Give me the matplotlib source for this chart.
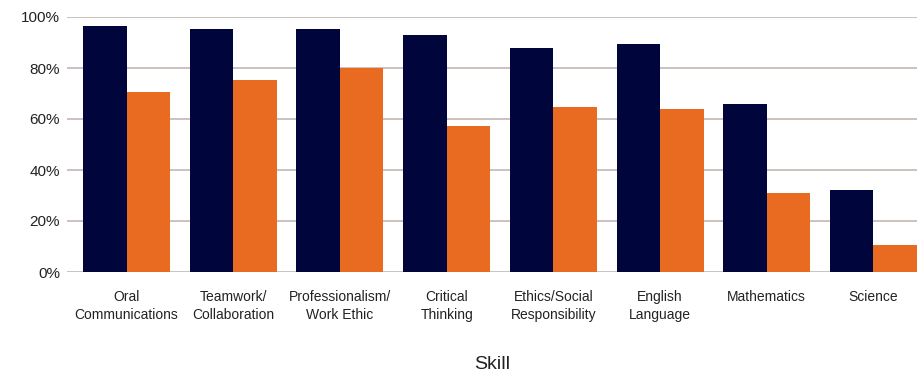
import matplotlib
matplotlib.use("Agg")
import matplotlib.pyplot as plt
import numpy as np

categories = ["Oral\nCommunications", "Teamwork/\nCollaboration", "Professionalism/\nWork Ethic",
              "Critical\nThinking", "Ethics/Social\nResponsibility", "English\nLanguage",
              "Mathematics", "Science"]
series_a = [96.4, 95.1, 95.1, 92.8, 87.8, 89.3, 65.8, 32.2]
series_b = [70.5, 75.2, 80.0, 57.2, 64.7, 63.9, 31.0, 10.7]
yticks = [0, 20, 40, 60, 80, 100]
ytick_labels = ["0%", "20%", "40%", "60%", "80%", "100%"]

plt.rcParams['font.family'] = ['Liberation Sans', 'DejaVu Sans']

fig = plt.figure(figsize=(9.24, 3.75), dpi=100)
ax = fig.add_axes([67/924, 1-272/375, (917-67)/924, (272-17)/375])

x = np.arange(len(categories))
w = 0.408
ax.bar(x - w/2, series_a, width=w, color="#00063b", zorder=3)
ax.bar(x + w/2, series_b, width=w, color="#e96b22", zorder=3)

ax.set_xlim(-0.558, len(categories) - 1 + w)
ax.set_ylim(0, 100)
ax.set_yticks(yticks)
ax.set_yticklabels(ytick_labels, fontsize=11, color="#222222")
ax.yaxis.grid(True, color="#c2b8b1", linewidth=1.2, zorder=0)
ax.tick_params(axis='y', length=0, pad=5)
ax.set_xticks(x)
ax.set_xticklabels(categories, fontsize=10, color="#222222", linespacing=1.4)
ax.tick_params(axis='x', length=0, pad=13)
for s in ax.spines.values():
    s.set_visible(False)
ax.set_xlabel("Skill", fontsize=14, color="#222222", labelpad=24)

fig.savefig("out.png", dpi=100)
